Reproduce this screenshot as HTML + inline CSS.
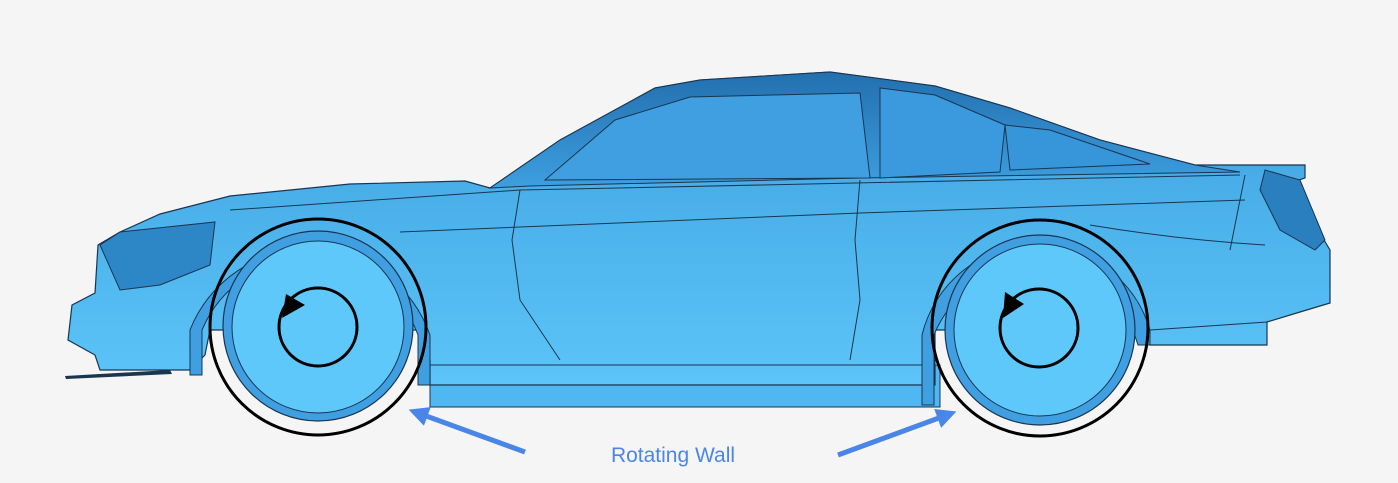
<!DOCTYPE html>
<html><head><style>
html,body{margin:0;padding:0;background:#f5f5f5;}
svg{display:block;}
</style></head><body>
<svg width="1398" height="483" viewBox="0 0 1398 483" xmlns="http://www.w3.org/2000/svg">
<defs>
<linearGradient id="side" x1="0" y1="0" x2="0" y2="1">
<stop offset="0" stop-color="#3593d4"/><stop offset="0.35" stop-color="#49aee8"/><stop offset="1" stop-color="#5cc4f8"/>
</linearGradient>
<linearGradient id="roof" x1="0" y1="0" x2="0" y2="1">
<stop offset="0" stop-color="#236fae"/><stop offset="1" stop-color="#3d9fe0"/>
</linearGradient>
<marker id="ah" markerWidth="4" markerHeight="4" refX="2" refY="2" orient="auto" markerUnits="strokeWidth"><path d="M0,0 L4,2 L0,4 z" fill="#4a86e8"/></marker>
</defs>
<rect width="1398" height="483" fill="#f5f5f5"/>
<path d="M430,365 L940,365 L940,407 L430,407 Z" fill="#4fb8f2" stroke="#1a3550" stroke-width="1"/>
<path d="M68,340 L72,305 L95,293 L98,245 L120,232 L160,214 L230,196 L350,184 L465,181 L490,188 L560,140 L655,88 L700,80 L830,72 L935,86 L1010,108 L1100,140 L1195,165 L1305,165 L1305,178 L1296,181 L1318,230 L1330,250 L1330,303 L1300,312 L1267,322 L1267,345 L1150,345 L1140,330 L935,330 L935,385 L430,385 L430,360 L420,330 L210,330 L205,355 L190,370 L100,370 L95,355 Z" fill="url(#side)" stroke="#1a3550" stroke-width="1.2"/>
<path d="M490,188 L560,140 L655,88 L700,80 L830,72 L935,86 L1010,108 L1100,140 L1195,165 L1240,172 L860,178 L530,186 Z" fill="url(#roof)" stroke="#1a3550" stroke-width="1"/>
<path d="M545,180 L615,120 L690,97 L860,93 L870,178 Z" fill="#3f9fe0" stroke="#1a3550" stroke-width="1"/>
<path d="M880,88 L880,178 L1000,172 L1005,125 L935,95 Z" fill="#3b9ade" stroke="#1a3550" stroke-width="1"/>
<path d="M1005,125 L1010,170 L1150,164 L1050,130 Z" fill="#3796d9" stroke="#1a3550" stroke-width="1"/>
<g fill="none" stroke="#1a3550" stroke-width="1">
<path d="M230,210 L520,190 L1240,175"/>
<path d="M400,232 L860,213 L1245,200"/>
<path d="M520,190 L512,240 L520,300 L560,360"/>
<path d="M860,180 L855,240 L860,300 L850,360"/>
<path d="M1245,175 L1230,250"/>
<path d="M1090,225 Q1180,240 1265,245"/>
<path d="M430,365 L940,365"/>
<path d="M1267,322 L1150,330"/>
</g>
<!-- fender arches -->
<path d="M190,375 L190,330 A128,128 0 0 1 430,335 L430,385 L418,385 L418,335 A116,116 0 0 0 202,330 L202,375 Z" fill="#3f9fe0" stroke="#1a3550" stroke-width="1"/>
<path d="M922,405 L922,335 A118,118 0 0 1 1150,330 L1150,345 L1138,345 A108,108 0 0 0 934,335 L934,405 Z" fill="#3f9fe0" stroke="#1a3550" stroke-width="1"/>
<path d="M65,376 L170,370 L172,374 L66,379 Z" fill="#1a3550"/>
<path d="M100,245 L120,232 L215,222 L210,265 L160,285 L120,290 Z" fill="#2d86c6" stroke="#1a3550" stroke-width="1"/>
<path d="M1265,170 L1300,180 L1325,240 L1315,250 L1280,230 L1260,190 Z" fill="#2a7fbf" stroke="#1a3550" stroke-width="1"/>
<circle cx="318" cy="326" r="95" fill="#3f9fe0" stroke="#1a3550" stroke-width="1.2"/>
<circle cx="318" cy="327" r="86" fill="#5ec8fb" stroke="#1a3550" stroke-width="1"/>
<circle cx="318" cy="327" r="108" fill="none" stroke="#000" stroke-width="3"/>
<circle cx="318" cy="327" r="39" fill="none" stroke="#000" stroke-width="3"/>
<path d="M286,294 L305,305 L282,318 Z" fill="#000"/>
<circle cx="1040" cy="330" r="95" fill="#3f9fe0" stroke="#1a3550" stroke-width="1.2"/>
<circle cx="1040" cy="330" r="86" fill="#5ec8fb" stroke="#1a3550" stroke-width="1"/>
<circle cx="1040" cy="328" r="108" fill="none" stroke="#000" stroke-width="3"/>
<circle cx="1039" cy="328" r="39" fill="none" stroke="#000" stroke-width="3"/>
<path d="M1005,292 L1024,304 L1003,318 Z" fill="#000"/>
<line x1="525" y1="452" x2="418" y2="413" stroke="#4a86e8" stroke-width="5" marker-end="url(#ah)"/>
<line x1="838" y1="455" x2="947" y2="415" stroke="#4a86e8" stroke-width="5" marker-end="url(#ah)"/>
<text x="673" y="462" text-anchor="middle" font-family="Liberation Sans, sans-serif" font-size="21" fill="#4a86e8">Rotating Wall</text>
</svg>
</body></html>
